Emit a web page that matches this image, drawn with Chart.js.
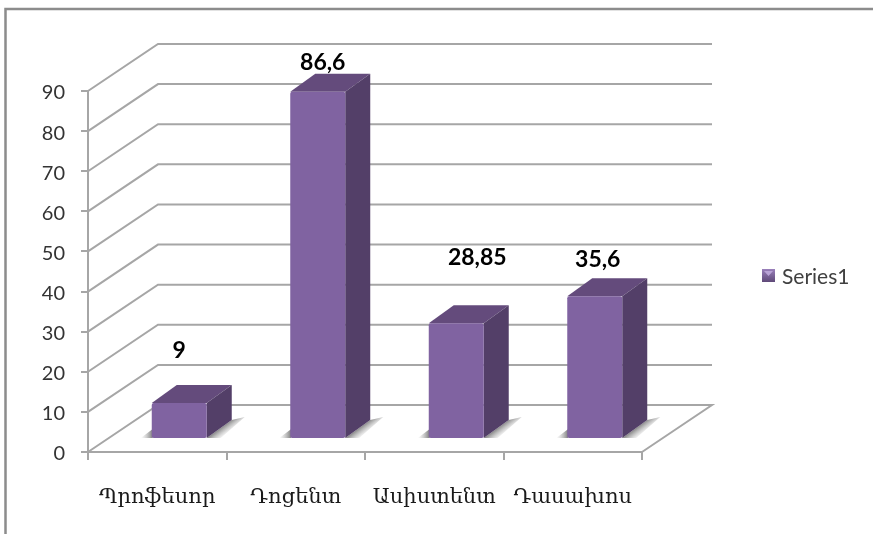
<!DOCTYPE html>
<html>
<head>
<meta charset="utf-8">
<style>
  html, body { margin: 0; padding: 0; background: #fff; }
  #wrap { width: 873px; height: 534px; position: relative; }
</style>
<script src="https://cdn.jsdelivr.net/npm/chart.js@4"></script>
</head>
<body>
<div id="wrap"><canvas id="chart" width="873" height="534"></canvas></div>
<script>
// Chart data
const categories = ['Պրոֆեսոր', 'Դոցենտ', 'Ասիստենտ', 'Դասախոս'];
const seriesName = 'Series1';
const seriesValues = [9, 86.6, 28.85, 35.6];
const yTicks = [0, 10, 20, 30, 40, 50, 60, 70, 80, 90];

// 3D look
const WALL_DX = 70, WALL_DY = -47;   // depth of the floor / back wall
const BAR_DX = 22, BAR_DY = -13;     // bars stand a bit inside the floor
const SIDE_DX = 25, SIDE_DY = -18;   // depth of a single bar
const GRID = '#a6a6a6';
const LABEL_FONT = '"Lato", "Open Sans", sans-serif';

// Data labels were moved by hand in the original chart
const labelShift = [[0, -52], [5, -29], [21, -66], [3, -37]];

function poly(ctx, pts, fill) {
    ctx.beginPath();
    pts.forEach((p, i) => i ? ctx.lineTo(p[0], p[1]) : ctx.moveTo(p[0], p[1]));
    ctx.closePath();
    ctx.fillStyle = fill;
    ctx.fill();
}

// Frame, floor and back wall, from the scales
const wallPlugin = {
    id: 'wall',
    beforeDatasetsDraw(chart) {
        const { ctx, scales, chartArea } = chart;
        const l = chartArea.left, r = chartArea.right;
        ctx.save();

        // outer frame
        ctx.strokeStyle = '#8c8c8c';
        ctx.lineWidth = 2.5;
        ctx.beginPath();
        ctx.moveTo(5.5, 534);
        ctx.lineTo(5.5, 9);
        ctx.lineTo(873, 9);
        ctx.stroke();

        ctx.strokeStyle = GRID;
        ctx.lineWidth = 2;
        yTicks.forEach(v => {
            const y = scales.y.getPixelForValue(v);
            ctx.beginPath();
            ctx.moveTo(l, y);
            ctx.lineTo(l + WALL_DX, y + WALL_DY);
            ctx.lineTo(r + WALL_DX, y + WALL_DY);
            if (v === 0) {
                ctx.lineTo(r, y);
            }
            ctx.stroke();
        });
        ctx.restore();
    }
};

// Bars are drawn by Chart.js, moved into the floor; side, top and shadow are added here
const barPlugin = {
    id: 'bar3d',
    beforeDatasetDraw(chart, args) {
        const { ctx } = chart;
        const bars = chart.getDatasetMeta(args.index).data;
        ctx.save();
        ctx.translate(BAR_DX, BAR_DY);
        bars.forEach(b => {
            const x0 = b.x - b.width / 2, x1 = b.x + b.width / 2;
            // shadow on the floor, right of the side face
            const g = ctx.createLinearGradient(x1 + 12, b.base - 9, x1 + 18, b.base - 1);
            g.addColorStop(0, 'rgba(110,110,110,0.85)');
            g.addColorStop(1, 'rgba(170,170,170,0)');
            poly(ctx, [[x1, b.base], [x1 + 25, b.base - 18], [x1 + 38, b.base - 21], [x1 + 14, b.base]], g);
            // and left of the front face
            const g2 = ctx.createLinearGradient(x0, 0, x0 - 11, 0);
            g2.addColorStop(0, 'rgba(110,110,110,0.8)');
            g2.addColorStop(1, 'rgba(170,170,170,0)');
            poly(ctx, [[x0 + 1, b.base], [x0 - 11, b.base], [x0 + 1, b.base - 9]], g2);
        });
        bars.forEach(b => {
            const x0 = b.x - b.width / 2, x1 = b.x + b.width / 2;
            poly(ctx, [[x0, b.y], [x0 + SIDE_DX, b.y + SIDE_DY], [x1 + SIDE_DX, b.y + SIDE_DY], [x1, b.y]], '#644b7c');
            poly(ctx, [[x1, b.y], [x1 + SIDE_DX, b.y + SIDE_DY], [x1 + SIDE_DX, b.base + SIDE_DY], [x1, b.base]], '#533f68');
        });
    },
    afterDatasetDraw(chart, args) {
        const { ctx } = chart;
        ctx.restore();
        const bars = chart.getDatasetMeta(args.index).data;
        ctx.save();
        ctx.font = 'bold 23px ' + LABEL_FONT;
        ctx.fillStyle = '#000';
        ctx.textAlign = 'center';
        ctx.textBaseline = 'middle';
        bars.forEach((b, i) => {
            const text = String(seriesValues[i]).replace('.', ',');
            ctx.fillText(text, b.x + BAR_DX + labelShift[i][0], b.y + BAR_DY + labelShift[i][1]);
        });
        ctx.restore();
    }
};

// Legend sits away from the plot, so it is placed by hand
const legendPlugin = {
    id: 'sideLegend',
    afterDraw(chart) {
        const { ctx } = chart;
        ctx.save();
        const g = ctx.createLinearGradient(0, 269, 0, 283);
        g.addColorStop(0, '#9a80bb');
        g.addColorStop(1, '#5a4573');
        ctx.fillStyle = g;
        ctx.fillRect(762, 269, 13, 13);
        ctx.fillStyle = '#b9a3d6';
        ctx.beginPath();
        ctx.moveTo(764, 271);
        ctx.lineTo(773, 271);
        ctx.lineTo(768.5, 276);
        ctx.closePath();
        ctx.fill();
        ctx.font = '21px ' + LABEL_FONT;
        ctx.fillStyle = '#404040';
        ctx.textBaseline = 'middle';
        ctx.fillText(chart.data.datasets[0].label, 782, 277);
        ctx.restore();
    }
};

new Chart(document.getElementById('chart'), {
    type: 'bar',
    data: {
        labels: categories,
        datasets: [{
            label: seriesName,
            data: seriesValues,
            backgroundColor: '#8063a1',
            borderRadius: 2,
            borderSkipped: false,
            categoryPercentage: 1,
            barPercentage: 0.397
        }]
    },
    options: {
        responsive: false,
        animation: false,
        layout: { padding: { top: 91, right: 231, left: 0, bottom: 0 } },
        plugins: {
            legend: { display: false },
            tooltip: { enabled: false }
        },
        scales: {
            x: {
                afterFit: s => { s.height = 82; },
                border: { color: GRID, width: 2 },
                grid: { drawOnChartArea: false, color: GRID, lineWidth: 2, tickLength: 8 },
                ticks: {
                    color: '#1a1a1a',
                    padding: 25,
                    maxRotation: 0,
                    font: { family: '"DejaVu Serif", "DejaVu Sans", serif', size: 21 }
                }
            },
            y: {
                min: 0,
                max: 90,
                afterFit: s => { s.width = 88; },
                border: { color: GRID, width: 2 },
                grid: { drawOnChartArea: false, color: GRID, lineWidth: 2, tickLength: 7 },
                ticks: {
                    stepSize: 10,
                    color: '#333333',
                    padding: 16,
                    labelOffset: 2,
                    font: { family: LABEL_FONT, size: 20 }
                }
            }
        }
    },
    plugins: [wallPlugin, barPlugin, legendPlugin]
});
</script>
</body>
</html>
